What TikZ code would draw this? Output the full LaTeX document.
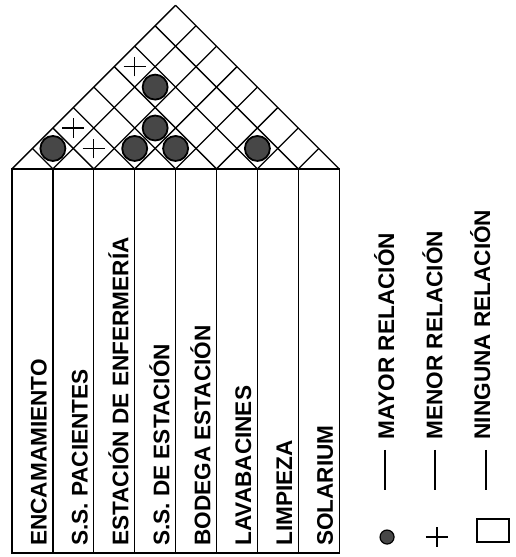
\documentclass[tikz,border=0pt]{standalone}
\usepackage{fontspec}
\setmainfont{Liberation Sans}
\usepackage{tikz}
\usetikzlibrary{positioning}

\begin{document}
\begin{tikzpicture}[
  x=7.187mm, y=7.187mm,
  line width=0.65pt,
  font=\fontsize{11.3}{13}\selectfont\bfseries,
  collab/.style={rotate=90,anchor=base west,inner sep=0pt},
  mayor/.style={draw,line width=0.9pt,circle,fill=black!72,minimum size=12.5pt,inner sep=0pt},
  menor/.pic={\draw (-0.27,0) -- (0.27,0) (0,-0.24) -- (0,0.24);},
  ninguna/.style={draw,minimum width=16pt,minimum height=11.5pt,inner sep=0pt}
]
\useasboundingbox (-0.293,-0.098) rectangle (12.32,13.52);

% table of rooms
\draw (0,0) rectangle (8,9.39);
\foreach \i in {1,...,7} \draw (\i,0) -- (\i,9.39);

% roof
\foreach \k in {0,...,8} {
  \draw (\k,9.39) -- ({\k+(8-\k)/2},{9.39+(8-\k)/2});
  \draw (\k,9.39) -- ({\k/2},{9.39+\k/2});
}

\node[collab] (enc) at (0.848,0.16) {ENCAMAMIENTO};
\node[collab] (ssp) at (1.848,0.16) {S.S. PACIENTES};
\node[collab] (est) at (2.848,0.16) {ESTACIÓN DE ENFERMERÍA};
\node[collab] (sse) at (3.848,0.16) {S.S. DE ESTACIÓN};
\node[collab] (bod) at (4.848,0.16) {BODEGA ESTACIÓN};
\node[collab] (lav) at (5.848,0.16) {LAVABACINES};
\node[collab] (lim) at (6.848,0.16) {LIMPIEZA};
\node[collab] (sol) at (7.848,0.16) {SOLARIUM};

% relations in the roof, cell (i,j) at ((i+j-1)/2, 9.39+(j-i)/2)
\node[mayor] (r12) at (1,9.89) {};
\node[mayor] (r26) at (3.5,11.39) {};
\node[mayor] (r34) at (3,9.89) {};
\node[mayor] (r35) at (3.5,10.39) {};
\node[mayor] (r45) at (4,9.89) {};
\node[mayor] (r67) at (6,9.89) {};
\pic at (1.5,10.39) {menor};
\pic at (3,11.89) {menor};
\pic at (2,9.89) {menor};

% legend
\node[collab] (tmay) at (9.34,2.76) {MAYOR RELACIÓN};
\node[collab] (tmen) at (10.52,2.76) {MENOR RELACIÓN};
\node[collab] (tnin) at (11.69,2.76) {NINGUNA RELACIÓN};
\draw (9.12,2.52) -- (9.12,1.54);
\draw (10.34,2.52) -- (10.34,1.54);
\draw (11.59,2.52) -- (11.59,1.54);
\node[mayor,line width=0.6pt,minimum size=7pt] (lmay) at (9.17,0.39) {};
\pic at (10.39,0.39) {menor};
\node[ninguna] (lnin) at (11.76,0.55) {};
\end{tikzpicture}
\end{document}
